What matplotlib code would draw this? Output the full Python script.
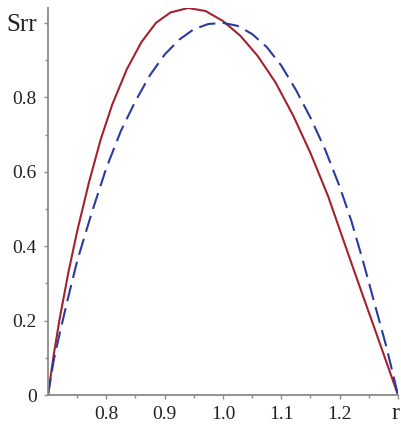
import matplotlib
matplotlib.use("Agg")
import matplotlib.pyplot as plt
import numpy as np

# values
r_solid = [0.70, 0.71, 0.72, 0.735, 0.75, 0.77, 0.79, 0.81, 0.835, 0.86, 0.885, 0.91, 0.94,
           0.97, 1.00, 1.03, 1.06, 1.09, 1.12, 1.15, 1.18, 1.20, 1.22, 1.24, 1.26, 1.28, 1.30]
s_solid = [0.0, 0.11, 0.205, 0.33, 0.44, 0.57, 0.685, 0.78, 0.875, 0.948, 1.0, 1.028, 1.04,
           1.032, 1.005, 0.965, 0.91, 0.84, 0.752, 0.65, 0.535, 0.445, 0.355, 0.266, 0.178,
           0.089, 0.0]

r_dash = [0.70, 0.71, 0.72, 0.735, 0.75, 0.775, 0.80, 0.825, 0.85, 0.875, 0.90, 0.925, 0.95,
          0.975, 1.00, 1.025, 1.05, 1.075, 1.10, 1.125, 1.15, 1.175, 1.20, 1.22, 1.24, 1.26,
          1.28, 1.30]
s_dash = [0.0, 0.095, 0.165, 0.265, 0.36, 0.49, 0.61, 0.71, 0.79, 0.86, 0.915, 0.955, 0.983,
          0.997, 1.0, 0.992, 0.97, 0.935, 0.885, 0.82, 0.745, 0.66, 0.56, 0.468, 0.36, 0.245,
          0.13, 0.0]

xticks = [0.8, 0.9, 1.0, 1.1, 1.2, 1.3]
xlabels = ["0.8", "0.9", "1.0", "1.1", "1.2", ""]
yticks = [0.0, 0.2, 0.4, 0.6, 0.8, 1.0]
ylabels = ["0", "0.2", "0.4", "0.6", "0.8", "Srr"]

plt.rcParams['font.family'] = ['Liberation Serif', 'DejaVu Serif']

fig = plt.figure(figsize=(4.02, 4.25), dpi=100)
ax = fig.add_axes([48 / 402, 30 / 425, 350 / 402, 387 / 425])

ax.plot(r_solid, s_solid, color='#a3222e', lw=1.5)
ax.plot(r_dash, s_dash, color='#2a3a9e', lw=1.5, dashes=(8, 3.5))

ax.set_xlim(0.7, 1.3)
ax.set_ylim(0.0, 1.04)

axis_col = '#8a8a8a'
for side in ['top', 'right']:
    ax.spines[side].set_visible(False)
for side in ['left', 'bottom']:
    ax.spines[side].set_color(axis_col)
    ax.spines[side].set_linewidth(1.3)

ax.set_xticks(xticks)
ax.set_xticklabels(xlabels)
ax.set_yticks(yticks)
ax.set_yticklabels(ylabels)
ax.set_xticks(np.arange(0.75, 1.3, 0.1), minor=True)
ax.set_yticks(np.arange(0.1, 1.0, 0.2), minor=True)

ax.tick_params(which='major', length=3, width=1, color=axis_col, labelsize=14,
               labelcolor='#222222')
ax.tick_params(which='minor', length=2, width=1, color=axis_col)
ax.tick_params(axis='x', pad=5)
ax.tick_params(axis='y', pad=5)

for lab in ax.get_yticklabels():
    if lab.get_text() == "Srr":
        lab.set_fontsize(18)

# axis name "r" sits under the right end of the r axis
ax.annotate("r", xy=(1.3, 0), xycoords='data', xytext=(1, -17), textcoords='offset points',
            ha='right', va='baseline', fontsize=17, color='#222222', annotation_clip=False)

fig.savefig("out.png", dpi=100)
